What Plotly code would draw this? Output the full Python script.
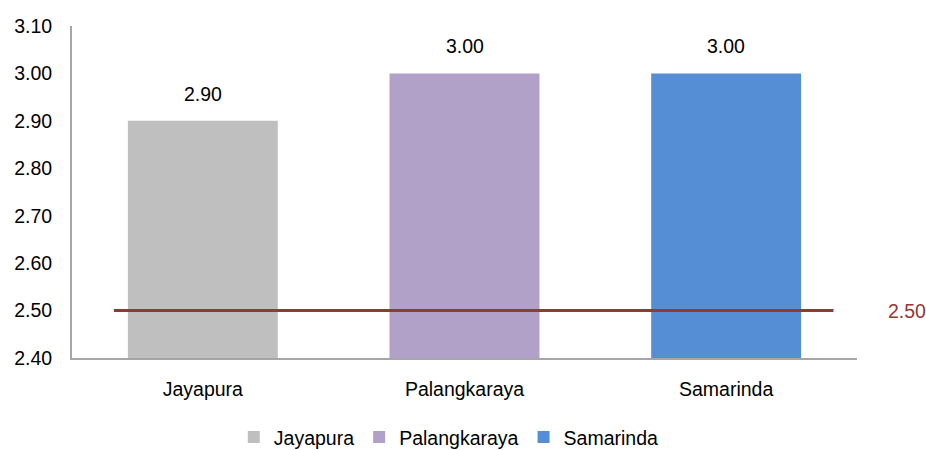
import plotly.graph_objects as go

categories = ["Jayapura", "Palangkaraya", "Samarinda"]
values = [2.90, 3.00, 3.00]
colors = ["#BFBFBF", "#B1A0C7", "#558ED5"]
target_value = 2.50
target_span = [-0.34, 2.41]
y_ticks = [2.40, 2.50, 2.60, 2.70, 2.80, 2.90, 3.00, 3.10]

FONT = "Liberation Sans, Arial, sans-serif"
FS = 19.5

fig = go.Figure()
for i, (cat, val, col) in enumerate(zip(categories, values, colors)):
    fig.add_trace(go.Bar(
        x=[i], y=[val], name=cat, marker=dict(color=col, line=dict(width=0)),
        width=0.573, showlegend=True,
    ))
    fig.add_annotation(
        x=i, y=val, text=f"{val:.2f}", showarrow=False, yanchor="bottom",
        yshift=14, font=dict(family=FONT, size=FS, color="#000000"),
    )

fig.add_trace(go.Scatter(
    x=target_span, y=[target_value, target_value], mode="lines",
    line=dict(color="#953735", width=3), showlegend=False, hoverinfo="skip",
))
fig.add_annotation(
    xref="paper", yref="y", x=1.09, xanchor="right", y=target_value,
    text=f"{target_value:.2f}", showarrow=False,
    font=dict(family=FONT, size=FS, color="#953735"),
)

fig.update_layout(
    width=926, height=450,
    margin=dict(l=72, r=69, t=26, b=92, autoexpand=False),
    paper_bgcolor="white", plot_bgcolor="white",
    font=dict(family=FONT, size=FS, color="#000000"),
    barmode="overlay",
    legend=dict(orientation="h", x=0.48, xanchor="center",
                yref="container", y=0.028, yanchor="middle",
                font=dict(family=FONT, size=FS), itemwidth=30, traceorder="normal"),
    xaxis=dict(
        range=[-0.5, 2.5], tickvals=[0, 1, 2], ticktext=categories,
        showline=True, linecolor="#A6A6A6", linewidth=2, showgrid=False,
        zeroline=False, ticks="", ticklabelstandoff=13,
    ),
    yaxis=dict(
        range=[2.40, 3.10], tickvals=y_ticks, tickformat=".2f",
        showline=True, linecolor="#A6A6A6", linewidth=2, showgrid=False,
        zeroline=False, ticks="", ticklabelstandoff=14,
    ),
)

fig.write_html("out.html", config={"displayModeBar": False},
               post_script="document.body.style.margin='0px';")
